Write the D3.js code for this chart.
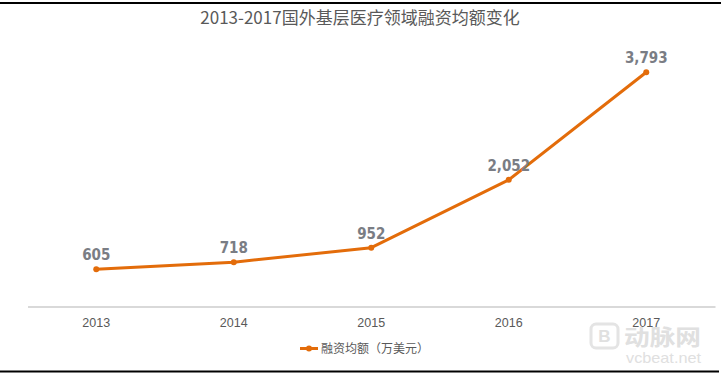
<!DOCTYPE html>
<html><head><meta charset="utf-8">
<script src="https://cdn.jsdelivr.net/npm/d3@7/dist/d3.min.js"></script>
<style>
html,body{margin:0;padding:0;background:#fff;}
svg{display:block;}
</style></head>
<body>
<svg id="chart" width="721" height="375"></svg>
<script>
const title = "2013-2017国外基层医疗领域融资均额变化";
const categories = ["2013", "2014", "2015", "2016", "2017"];
const values = [605, 718, 952, 2052, 3793];
const seriesName = "融资均额（万美元）";

const W = 721, H = 375;
const svg = d3.select("#chart");
const cjk = "'Noto Sans CJK SC','Microsoft YaHei',sans-serif";
const color = "#E36C0A";

// frame lines
svg.append("rect").attr("x",0).attr("y",0).attr("width",W).attr("height",H).attr("fill","#fff");
svg.append("line").attr("x1",0).attr("x2",721).attr("y1",3).attr("y2",3).attr("stroke","#000").attr("stroke-width",2);
svg.append("line").attr("x1",0).attr("x2",719).attr("y1",371.5).attr("y2",371.5).attr("stroke","#000").attr("stroke-width",2);

// watermark
const wm = svg.append("g").attr("fill","#e0e0e0");
wm.append("rect").attr("x",591).attr("y",324).attr("width",27).attr("height",24).attr("rx",5).attr("fill","none").attr("stroke","#e4e4e4").attr("stroke-width",3);
wm.append("text").attr("x",604.5).attr("y",342).attr("text-anchor","middle").attr("font-family","'Liberation Sans',sans-serif").attr("font-weight","bold").attr("font-size",17).text("B");
wm.append("text").attr("x",624).attr("y",345).attr("font-family",cjk).attr("font-weight","bold").attr("font-size",22).attr("textLength",77).attr("lengthAdjust","spacingAndGlyphs").text("动脉网");
wm.append("text").attr("x",626).attr("y",363).attr("font-family","'Liberation Sans',sans-serif").attr("font-size",15).attr("textLength",75).attr("lengthAdjust","spacingAndGlyphs").text("vcbeat.net");

// title
svg.append("text").attr("x",360).attr("y",24).attr("text-anchor","middle")
  .attr("font-family",cjk).attr("font-size",17).attr("fill","#595959").text(title);

const x = d3.scaleBand().domain(categories).range([27.5, 715]);
const y = d3.scaleLinear().domain([0, 4000]).range([306.5, 59.5]);

// axis
const axis = svg.append("g").attr("transform","translate(0,306.5)").call(d3.axisBottom(x).tickSize(0).tickPadding(10));
axis.select(".domain").attr("stroke","#d9d9d9").attr("stroke-width",2);
axis.selectAll("text").attr("font-family","'Liberation Sans',Arial,sans-serif").attr("font-size",12.5).attr("fill","#595959").attr("dy","0.85em");

// line
const cx = d => x(d) + x.bandwidth()/2;
const data = categories.map((c,i)=>({c, v: values[i]}));
svg.append("path").datum(data)
  .attr("d", d3.line().x(d=>cx(d.c)).y(d=>y(d.v)))
  .attr("fill","none").attr("stroke",color).attr("stroke-width",3).attr("stroke-linejoin","round");
svg.selectAll("circle.pt").data(data).join("circle").attr("class","pt")
  .attr("cx",d=>cx(d.c)).attr("cy",d=>y(d.v)).attr("r",3).attr("fill",color);

// labels
svg.selectAll("text.lbl").data(data).join("text").attr("class","lbl")
  .attr("x",d=>cx(d.c)).attr("y",d=>y(d.v)-9).attr("text-anchor","middle")
  .attr("font-family","'DejaVu Sans Condensed','Liberation Sans Narrow',sans-serif").attr("font-weight","bold")
  .attr("font-size",15).attr("fill","#7a7d84")
  .text(d=>d3.format(",")(d.v));

// legend
const lg = svg.append("g");
lg.append("line").attr("x1",300).attr("x2",318).attr("y1",348.5).attr("y2",348.5).attr("stroke",color).attr("stroke-width",3);
lg.append("circle").attr("cx",309).attr("cy",348.5).attr("r",3).attr("fill",color);
lg.append("text").attr("x",321).attr("y",353).attr("font-family",cjk).attr("font-size",12).attr("fill","#595959").text(seriesName);
</script>
</body></html>
